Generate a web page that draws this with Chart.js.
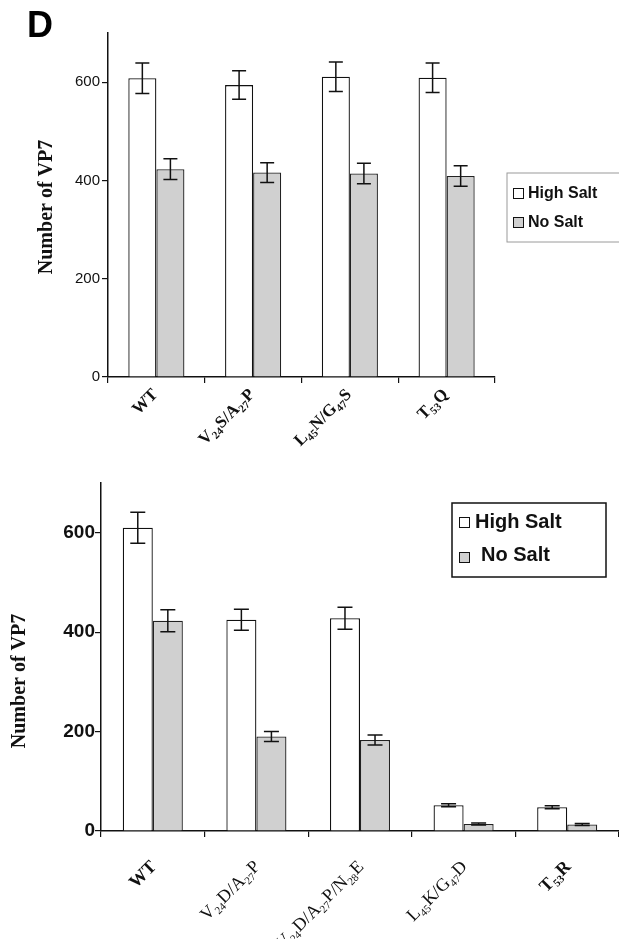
<!DOCTYPE html>
<html>
<head>
<meta charset="utf-8">
<script src="https://cdn.jsdelivr.net/npm/chart.js@4/dist/chart.umd.min.js"></script>
<style>
  body { margin: 0; background: #fff; }
  #topBox { position: absolute; left: 0; top: 0; width: 619px; height: 470px; }
  #bottomBox { position: absolute; left: 0; top: 470px; width: 619px; height: 469px; }
</style>
</head>
<body>
<div id="topBox"><canvas id="topChart"></canvas></div>
<div id="bottomBox"><canvas id="bottomChart"></canvas></div>
<script>
// panel D, upper graph
const topLabels = ['WT', 'V24S/A27P', 'L45N/G47S', 'T53Q'];
const topBold = [true, true, true, true];
const topHigh = [608, 594, 611, 609];
const topHighErr = [31, 29, 30, 30];
const topNo = [423, 416, 414, 409];
const topNoErr = [21, 20, 21, 21];

// panel D, lower graph
const bottomLabels = ['WT', 'V24D/A27P', 'V24D/A27P/N28E', 'L45K/G47D', 'T53R'];
const bottomBold = [true, false, false, false, true];
const bottomHigh = [610, 425, 428, 52, 48];
const bottomHighErr = [31, 21, 22, 3, 3];
const bottomNo = [423, 190, 183, 14, 13];
const bottomNoErr = [22, 10, 10, 2, 2];

const yTicks = [0, 200, 400, 600];
const yMax = 700;
const seriesNames = ['High Salt', 'No Salt'];
const highColor = '#ffffff';
const noColor = '#d0d0d0';

const SANS = '"Liberation Sans", Arial, sans-serif';
const SERIF = '"Liberation Serif", "Times New Roman", serif';

// draws a label like V24S/A27P with the numbers as subscripts, rotated 45deg
function drawSubLabel(ctx, text, x, y, size, bold) {
  let parts = text.match(/\d+|[^\d]+/g);
  let w = bold ? 'bold ' : '';
  let subSize = Math.round(size * 0.62);
  let total = 0;
  parts.forEach(p => {
    ctx.font = w + (/\d/.test(p) ? subSize : size) + 'px ' + SERIF;
    total += ctx.measureText(p).width;
  });
  ctx.save();
  ctx.translate(x, y);
  ctx.rotate(-Math.PI / 4);
  ctx.textAlign = 'left';
  ctx.textBaseline = 'alphabetic';
  ctx.fillStyle = '#111';
  let cx = -total;
  let base = size * 0.35;
  parts.forEach(p => {
    let sub = /\d/.test(p);
    ctx.font = w + (sub ? subSize : size) + 'px ' + SERIF;
    ctx.fillText(p, cx, sub ? base + size * 0.22 : base);
    cx += ctx.measureText(p).width;
  });
  ctx.restore();
}

const panelExtras = {
  id: 'panelExtras',
  afterDatasetsDraw(chart, args, opts) {
    let ctx = chart.ctx;
    let yScale = chart.scales.y;
    ctx.save();
    ctx.strokeStyle = '#111';
    ctx.lineWidth = 1.5;
    chart.data.datasets.forEach((ds, i) => {
      let meta = chart.getDatasetMeta(i);
      meta.data.forEach((bar, j) => {
        let v = ds.data[j], e = ds.errors[j];
        let y1 = yScale.getPixelForValue(v + e);
        let y2 = yScale.getPixelForValue(v - e);
        let half = opts.cap / 2;
        ctx.beginPath();
        ctx.moveTo(bar.x, y1); ctx.lineTo(bar.x, y2);
        ctx.moveTo(bar.x - half, y1); ctx.lineTo(bar.x + half, y1);
        ctx.moveTo(bar.x - half, y2); ctx.lineTo(bar.x + half, y2);
        ctx.stroke();
      });
    });
    ctx.restore();
  },
  afterDraw(chart, args, opts) {
    let ctx = chart.ctx;
    let xScale = chart.scales.x;

    // category labels
    opts.labels.forEach((lab, j) => {
      let px = xScale.getPixelForValue(j);
      drawSubLabel(ctx, lab, px + opts.labelDx, xScale.top + opts.labelDy, opts.labelSize, opts.bold[j]);
    });

    // y title
    ctx.save();
    ctx.translate(opts.titleX, opts.titleY);
    ctx.rotate(-Math.PI / 2);
    ctx.textAlign = 'center';
    ctx.textBaseline = 'middle';
    ctx.fillStyle = '#111';
    ctx.font = 'bold ' + opts.titleSize + 'px ' + SERIF;
    ctx.fillText('Number of VP7', 0, 0);
    ctx.restore();

    // legend box
    let lg = opts.legend;
    ctx.save();
    ctx.strokeStyle = lg.border;
    ctx.lineWidth = lg.borderWidth;
    ctx.strokeRect(lg.x, lg.y, lg.w, lg.h);
    ctx.font = 'bold ' + lg.size + 'px ' + SANS;
    ctx.textBaseline = 'alphabetic';
    chart.data.datasets.forEach((ds, i) => {
      let it = lg.items[i];
      ctx.fillStyle = ds.backgroundColor;
      ctx.fillRect(it.bx, it.by, lg.box, lg.box);
      ctx.strokeStyle = '#111';
      ctx.lineWidth = 1;
      ctx.strokeRect(it.bx + 0.5, it.by + 0.5, lg.box, lg.box);
      ctx.fillStyle = '#111';
      ctx.fillText(ds.label, it.tx, it.ty);
    });
    ctx.restore();

    if (opts.letter) {
      ctx.save();
      ctx.font = 'bold 36px ' + SANS;
      ctx.fillStyle = '#000';
      ctx.textBaseline = 'alphabetic';
      ctx.fillText(opts.letter, 27, 37);
      ctx.restore();
    }
  }
};

function makeChart(el, labels, high, highErr, no, noErr, cfg) {
  return new Chart(document.getElementById(el), {
    type: 'bar',
    data: {
      labels: labels,
      datasets: [
        { label: seriesNames[0], data: high, errors: highErr, backgroundColor: highColor,
          borderColor: '#111', borderWidth: 1.3, categoryPercentage: 0.58, barPercentage: 1 },
        { label: seriesNames[1], data: no, errors: noErr, backgroundColor: noColor,
          borderColor: '#222', borderWidth: 1.3, categoryPercentage: 0.58, barPercentage: 1 }
      ]
    },
    options: {
      responsive: true,
      maintainAspectRatio: false,
      animation: false,
      devicePixelRatio: 1,
      layout: { padding: cfg.padding },
      plugins: {
        legend: { display: false },
        tooltip: { enabled: false },
        panelExtras: cfg.extras
      },
      scales: {
        x: {
          ticks: { display: false },
          grid: { drawOnChartArea: false, offset: true, tickLength: 6, color: '#111', lineWidth: 1.2 },
          border: { color: '#111', width: 1.5 },
          afterFit: s => { s.height = cfg.xHeight; }
        },
        y: {
          min: 0,
          max: yMax,
          afterBuildTicks: s => { s.ticks = yTicks.map(v => ({ value: v })); },
          ticks: { color: '#111', padding: cfg.tickPad, font: cfg.tickFont },
          grid: { drawOnChartArea: false, tickLength: 6, color: '#111', lineWidth: 1.2 },
          border: { color: '#111', width: 1.5 },
          afterFit: s => { s.width = cfg.yWidth; }
        }
      }
    },
    plugins: [panelExtras]
  });
}

makeChart('topChart', topLabels, topHigh, topHighErr, topNo, topNoErr, {
  padding: { top: 33, right: 124, left: 0, bottom: 0 },
  xHeight: 93,
  yWidth: 108,
  tickPad: 2,
  tickFont: { family: SANS, size: 15 },
  extras: {
    cap: 14,
    labels: topLabels, bold: topBold, labelSize: 17, labelDx: -2, labelDy: 14,
    titleX: 47, titleY: 207, titleSize: 20,
    letter: 'D',
    legend: {
      x: 507, y: 173, w: 130, h: 69, border: '#9a9a9a', borderWidth: 1, size: 16, box: 10,
      items: [{ bx: 513, by: 188, tx: 528, ty: 198 }, { bx: 513, by: 217, tx: 528, ty: 227 }]
    }
  }
});

makeChart('bottomChart', bottomLabels, bottomHigh, bottomHighErr, bottomNo, bottomNoErr, {
  padding: { top: 13, right: 0, left: 0, bottom: 0 },
  xHeight: 108,
  yWidth: 101,
  tickPad: 0,
  tickFont: { family: SANS, size: 19, weight: 'bold' },
  extras: {
    cap: 15,
    labels: bottomLabels, bold: bottomBold, labelSize: 18, labelDx: 0, labelDy: 32,
    titleX: 20, titleY: 211, titleSize: 20,
    letter: null,
    legend: {
      x: 452, y: 33, w: 154, h: 74, border: '#111', borderWidth: 1.5, size: 20, box: 10,
      items: [{ bx: 459, by: 47, tx: 475, ty: 58 }, { bx: 459, by: 82, tx: 481, ty: 91 }]
    }
  }
});
</script>
</body>
</html>
